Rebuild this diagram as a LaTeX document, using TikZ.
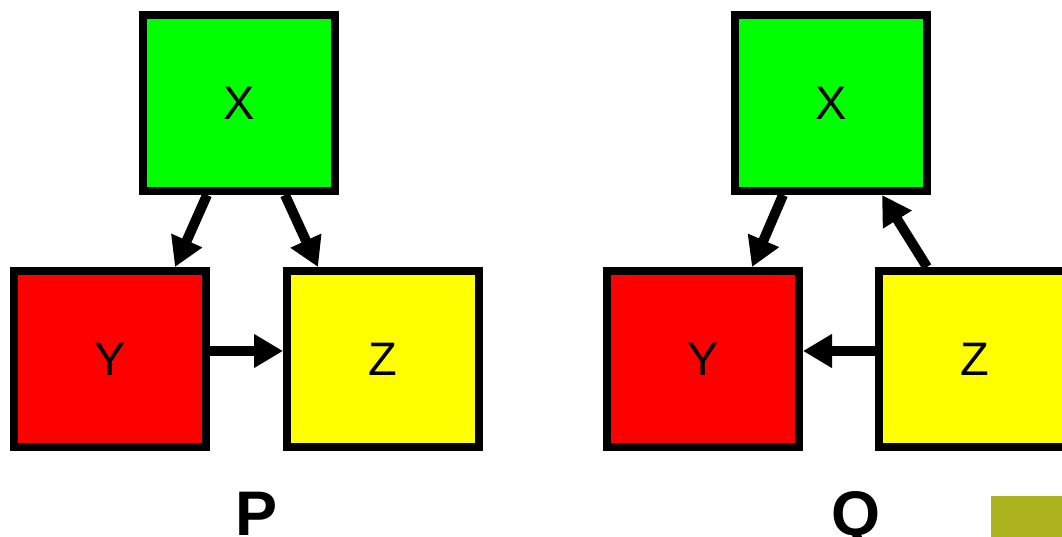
\documentclass[tikz,border=0pt]{standalone}
\usepackage{fontspec}
\setmainfont{Liberation Sans}
\usetikzlibrary{arrows.meta}
\definecolor{boxgreen}{RGB}{0,255,0}
\definecolor{boxred}{RGB}{255,0,0}
\definecolor{boxyellow}{RGB}{255,255,0}
\definecolor{olivebar}{RGB}{173,178,31}
\begin{document}
\begin{tikzpicture}[>={Triangle[length=29pt,width=32pt]},line width=8pt,x=1pt,y=-1pt,
    box/.style={draw,minimum width=192pt,minimum height=176pt,inner sep=0pt,
        font=\fontsize{47}{47}\selectfont},
    link/.style={->,line width=10pt},
    caption/.style={anchor=base,font=\fontsize{63}{63}\selectfont\bfseries}]
    \useasboundingbox (0,0) rectangle (1062,537);
    % graph P
    \node[box,fill=boxgreen] (xp) at (239,103) {X};
    \node[box,fill=boxred] (yp) at (110,359) {Y};
    \node[box,fill=boxyellow] (zp) at (383,359) {Z};
    \draw[link] ([xshift=-32pt]xp.south)--([xshift=65pt]yp.north);
    \draw[link] ([xshift=46pt]xp.south)--([xshift=-65pt]zp.north);
    \draw[link] ([yshift=8pt]yp.east)--([yshift=8pt]zp.west);
    \node[caption] (capp) at (257,535) {P};
    % graph Q
    \node[box,fill=boxgreen] (xq) at (831,103) {X};
    \node[box,fill=boxred] (yq) at (703,359) {Y};
    \node[box,fill=boxyellow] (zq) at (975,359) {Z};
    \draw[link] ([xshift=-48pt]xq.south)--([xshift=49pt]yq.north);
    \draw[link] ([xshift=-48pt]zq.north)--([xshift=51pt]xq.south);
    \draw[link] ([yshift=8pt]zq.west)--([yshift=8pt]yq.east);
    \node[caption] (capq) at (856,535) {Q};
    %\fill[olivebar] (991,496) rectangle (1062,537);
    \fill[olivebar] (991,496) rectangle (1070,545);
\end{tikzpicture}
\end{document}
